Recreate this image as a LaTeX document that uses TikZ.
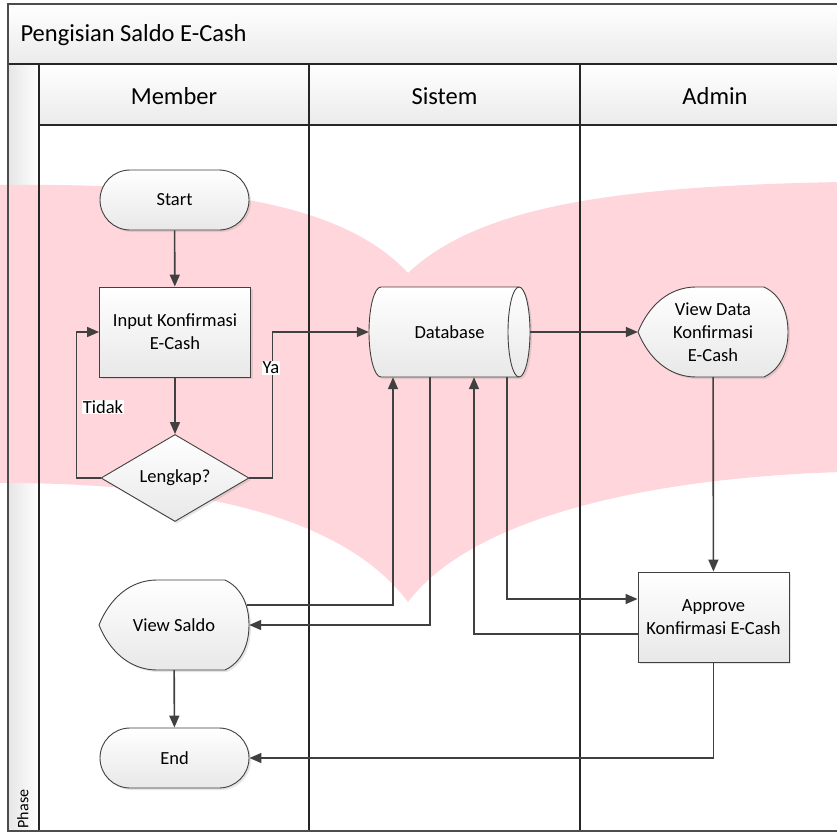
\documentclass[tikz,border=0pt]{standalone}
\usepackage{fontspec}
\setmainfont{Carlito}
\usepackage{tikz}
\usetikzlibrary{arrows.meta,shapes.geometric,shadows,calc,positioning}
\usepackage{xcolor}

\definecolor{wmpink}{RGB}{255,214,219}
\definecolor{lineg}{RGB}{64,64,64}

\newcommand{\nodefont}{\fontsize{18.5}{23}\selectfont}
\newcommand{\headfont}{\fontsize{24.5}{28}\selectfont}

\tikzset{
  boxshade/.style={draw=lineg, line width=0.9pt, top color=white, bottom color=black!9,
    drop shadow={shadow xshift=2pt, shadow yshift=-2pt, opacity=0.2}},
  procbox/.style={boxshade, minimum width=151pt, minimum height=90pt, align=center, font=\nodefont},
  termbox/.style={procbox, rounded corners=30pt, minimum width=149pt, minimum height=60pt},
  decibox/.style={procbox, diamond, aspect=1.7, inner sep=0pt, minimum width=148pt, minimum height=87pt},
  txtbox/.style={minimum width=150pt, minimum height=90pt, align=center, font=\nodefont},
  conn/.style={draw=lineg, line width=1.6pt, -{Triangle[length=12pt,width=10pt]}},
  lbl/.style={fill=white, inner sep=1pt, font=\nodefont},
  laneline/.style={draw=black!85, line width=1.1pt},
}

% display shape, centre x and y
\newcommand{\dispshape}[2]{%
  \draw[boxshade] (#1-75,#2) .. controls (#1-65,#2+25) and (#1-45,#2+45) .. (#1-17,#2+45)
    -- (#1+51,#2+45) .. controls (#1+66,#2+38) and (#1+75,#2+22) .. (#1+75,#2)
    .. controls (#1+75,#2-22) and (#1+66,#2-38) .. (#1+51,#2-45)
    -- (#1-17,#2-45) .. controls (#1-45,#2-45) and (#1-65,#2-25) .. (#1-75,#2) -- cycle;}

\begin{document}
\begin{tikzpicture}[x=1pt, y=1pt]
    \useasboundingbox (0,0) rectangle (837,-832);
    \clip (0,0) rectangle (837,-832);
    \fill[white] (0,0) rectangle (837,-832);

    % pool and lane heads
    \fill[top color=white, bottom color=black!8] (8,-4) rectangle (850,-64);
    \fill[top color=white, bottom color=black!8] (39,-64) rectangle (850,-125);
    \fill[left color=black!10, right color=white] (8,-64) rectangle (39,-831);

    % watermark
    \fill[wmpink] (-5,-185) .. controls (200,-183) and (340,-200) .. (408,-273)
        .. controls (480,-205) and (620,-186) .. (842,-182) -- (842,-472)
        .. controls (640,-478) and (470,-520) .. (408,-602)
        .. controls (350,-525) and (220,-482) .. (-5,-483) -- cycle;

    % lanes
    \foreach \x in {39,309,580}
        \draw[laneline] (\x,-64) -- (\x,-831);
    \draw[laneline] (39,-125) -- (850,-125);
    \draw[laneline] (8,-64) -- (850,-64);
    \draw[draw=black!70, line width=2pt] (8,-4) rectangle (850,-831);

    \node[anchor=west, font=\headfont] (title) at (17,-35) {Pengisian Saldo E-Cash};
    \node[font=\headfont] (hmember) at (174,-96) {Member};
    \node[font=\headfont] (hsistem) at (444.5,-96) {Sistem};
    \node[font=\headfont] (hadmin) at (715,-96) {Admin};
    \node[rotate=90, font=\fontsize{16}{18}\selectfont] (phase) at (23,-809) {Phase};

    % Member
    \node[termbox] (start) at (174.5,-200) {Start};
    \node[procbox] (input) at (175,-332) {Input Konfirmasi\\E-Cash};
    \node[decibox] (lengkap) at (175,-478) {Lengkap?};
    \dispshape{174}{-625}
    \node[txtbox] (vsaldo) at (174,-625) {View Saldo};
    \node[termbox] (end) at (174.5,-758) {End};

    % Sistem
    \draw[boxshade] (381,-287) -- (519,-287) arc[start angle=90, end angle=-90, x radius=11, y radius=45]
        -- (381,-377) arc[start angle=270, end angle=90, x radius=12, y radius=45] -- cycle;
    \draw[draw=lineg, line width=0.9pt] (519,-287) arc[start angle=90, end angle=270, x radius=11, y radius=45];
    \node[minimum width=161pt, minimum height=90pt, font=\nodefont] (db) at (449.5,-332) {Database};

    % Admin
    \dispshape{713}{-332}
    \node[txtbox] (vdata) at (713,-332) {View Data\\Konfirmasi\\E-Cash};
    \node[procbox] (approve) at (713.5,-617) {Approve\\Konfirmasi E-Cash};

    % flow
    \draw[conn] (start) -- (input);
    \draw[conn] (input) -- (lengkap);
    \draw[conn] (lengkap.west) -- ++(-24,0) |- (input.west);
    \draw[conn] (lengkap.east) -- ++(23,0) |- (db.west);
    \node[lbl] (tidak) at (103,-407) {Tidak};
    \node[lbl] (ya) at (271,-368) {Ya};
    \draw[conn] (db.east) -- (vdata.west);
    \draw[conn] (vdata) -- (approve);
    \draw[conn] ($(vsaldo.east)+(-2,20)$) -| ($(db.south)+(-56.5,0)$);
    \draw[conn] ($(db.south)+(-19.5,0)$) |- (vsaldo.east);
    \draw[conn] ($(db.south)+(57.5,0)$) |- ($(approve.west)+(0,18)$);
    \draw[conn] ($(approve.west)+(0,-17)$) -| ($(db.south)+(24.5,0)$);
    \draw[conn] (approve.south) |- (end.east);
    \draw[conn] (vsaldo) -- (end);
\end{tikzpicture}
\end{document}
